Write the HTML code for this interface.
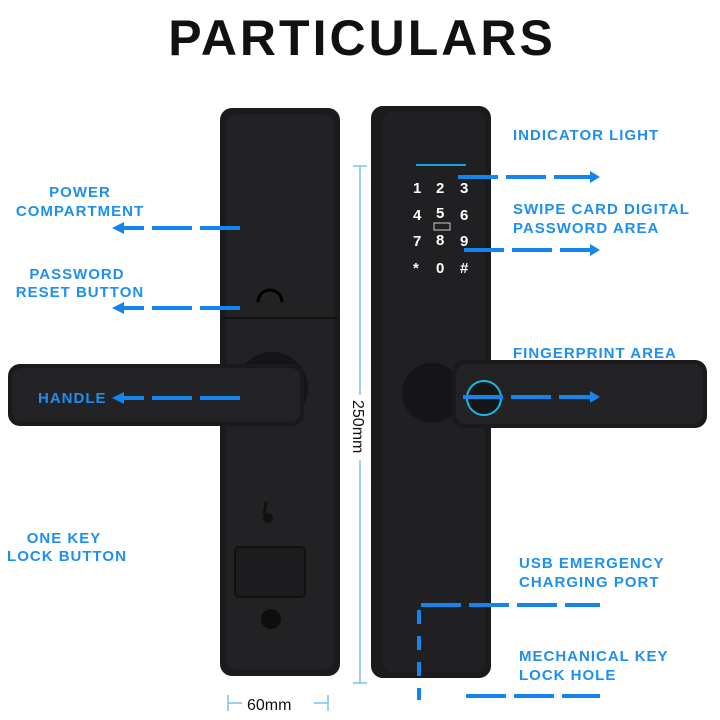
<!DOCTYPE html>
<html><head><meta charset="utf-8"><style>
body{margin:0;background:#fff}
svg{display:block}
.l{font-family:"Liberation Sans",sans-serif;font-weight:bold;fill:#1e8ff0;font-size:15px;letter-spacing:1px}
.k{font-family:"Liberation Sans",sans-serif;font-weight:bold;fill:#fff;font-size:15px}
.d{stroke:#1485ec;stroke-width:4;stroke-dasharray:40 8;fill:none}
</style></head><body>
<svg width="720" height="720" viewBox="0 0 720 720">
<text x="362" y="55" text-anchor="middle" font-family="Liberation Sans,sans-serif" font-weight="bold" font-size="50" letter-spacing="3" fill="#111">PARTICULARS</text>

<!-- left body -->
<rect x="220" y="108" width="120" height="568" rx="12" fill="#1b1b1d"/>
<rect x="226" y="114" width="108" height="556" rx="9" fill="#222225"/>
<line x1="222" y1="318" x2="338" y2="318" stroke="#111" stroke-width="2"/>
<path d="M258 302 a12 12 0 0 1 24 0" stroke="#000" stroke-width="3" fill="none"/>
<circle cx="268" cy="518" r="5" fill="#111"/><path d="M266 502 l-2 12" stroke="#111" stroke-width="3"/>
<rect x="235" y="547" width="70" height="50" rx="4" fill="#1c1c1e" stroke="#111" stroke-width="2"/>
<circle cx="271" cy="619" r="10" fill="#0e0e0e"/>
<!-- left handle -->
<circle cx="272" cy="388" r="36" fill="#151517"/>
<rect x="8" y="364" width="296" height="62" rx="12" fill="#1a1a1c"/>
<rect x="12" y="368" width="288" height="54" rx="10" fill="#232326"/>

<!-- right body -->
<rect x="371" y="106" width="120" height="572" rx="12" fill="#1b1b1d"/>
<rect x="383" y="112" width="102" height="560" rx="8" fill="#202023"/>
<line x1="416" y1="165" x2="466" y2="165" stroke="#1aa0e8" stroke-width="2"/>
<text class="k" x="413" y="193">1</text><text class="k" x="436" y="193">2</text><text class="k" x="460" y="193">3</text>
<text class="k" x="413" y="220">4</text><text class="k" x="436" y="218">5</text><text class="k" x="460" y="220">6</text>
<rect x="434" y="223" width="16" height="7" fill="none" stroke="#ccc" stroke-width="1"/>
<text class="k" x="413" y="246">7</text><text class="k" x="436" y="245">8</text><text class="k" x="460" y="246">9</text>
<text class="k" x="413" y="273">*</text><text class="k" x="436" y="273">0</text><text class="k" x="460" y="273">#</text>
<circle cx="432" cy="393" r="30" fill="#151517"/>
<rect x="452" y="360" width="255" height="68" rx="12" fill="#1a1a1c"/>
<rect x="456" y="364" width="247" height="60" rx="10" fill="#232326"/>
<circle cx="484" cy="398" r="17" fill="#161618" stroke="#18b8e0" stroke-width="2"/>

<!-- dimension -->
<g stroke="#7fbfea" stroke-width="1.5">
<line x1="360" y1="166" x2="360" y2="683"/><line x1="353" y1="166" x2="367" y2="166"/><line x1="353" y1="683" x2="367" y2="683"/>
<line x1="228" y1="695" x2="228" y2="711"/><line x1="228" y1="703" x2="242" y2="703"/>
<line x1="314" y1="703" x2="328" y2="703"/><line x1="328" y1="695" x2="328" y2="711"/>
</g>
<rect x="350" y="395" width="20" height="65" fill="#fff"/>
<text x="0" y="0" transform="translate(353,400) rotate(90)" font-family="Liberation Sans,sans-serif" font-size="16" fill="#111">250mm</text>
<text x="247" y="710" font-family="Liberation Sans,sans-serif" font-size="16" fill="#111">60mm</text>

<!-- left labels -->
<text class="l" x="80" y="197" text-anchor="middle">POWER</text>
<text class="l" x="80" y="216" text-anchor="middle">COMPARTMENT</text>
<text class="l" x="77" y="279" text-anchor="middle">PASSWORD</text>
<text class="l" x="80" y="297" text-anchor="middle">RESET BUTTON</text>
<text class="l" x="38" y="403">HANDLE</text>
<text class="l" x="64" y="543" text-anchor="middle">ONE KEY</text>
<text class="l" x="67" y="561" text-anchor="middle">LOCK BUTTON</text>
<path class="d" d="M240 228 H122"/><path d="M112 228 l12 -6 v12z" fill="#1485ec"/>
<path class="d" d="M240 308 H122"/><path d="M112 308 l12 -6 v12z" fill="#1485ec"/>
<path class="d" d="M240 398 H122"/><path d="M112 398 l12 -6 v12z" fill="#1485ec"/>

<!-- right labels -->
<text class="l" x="513" y="140">INDICATOR LIGHT</text>
<text class="l" x="513" y="214">SWIPE CARD DIGITAL</text>
<text class="l" x="513" y="233">PASSWORD AREA</text>
<text class="l" x="513" y="358">FINGERPRINT AREA</text>
<text class="l" x="519" y="568">USB EMERGENCY</text>
<text class="l" x="519" y="587">CHARGING PORT</text>
<text class="l" x="519" y="661">MECHANICAL KEY</text>
<text class="l" x="519" y="680">LOCK HOLE</text>
<path class="d" d="M458 177 H592"/><path d="M600 177 l-10 -6 v12z" fill="#1485ec"/>
<path class="d" d="M464 250 H592"/><path d="M600 250 l-10 -6 v12z" fill="#1485ec"/>
<path class="d" d="M463 397 H592"/><path d="M600 397 l-10 -6 v12z" fill="#1485ec"/>
<path class="d" d="M421 605 H600"/>
<path class="d" d="M419 610 V700" style="stroke-dasharray:14 12"/>
<path class="d" d="M466 696 H600"/>
</svg>
</body></html>
